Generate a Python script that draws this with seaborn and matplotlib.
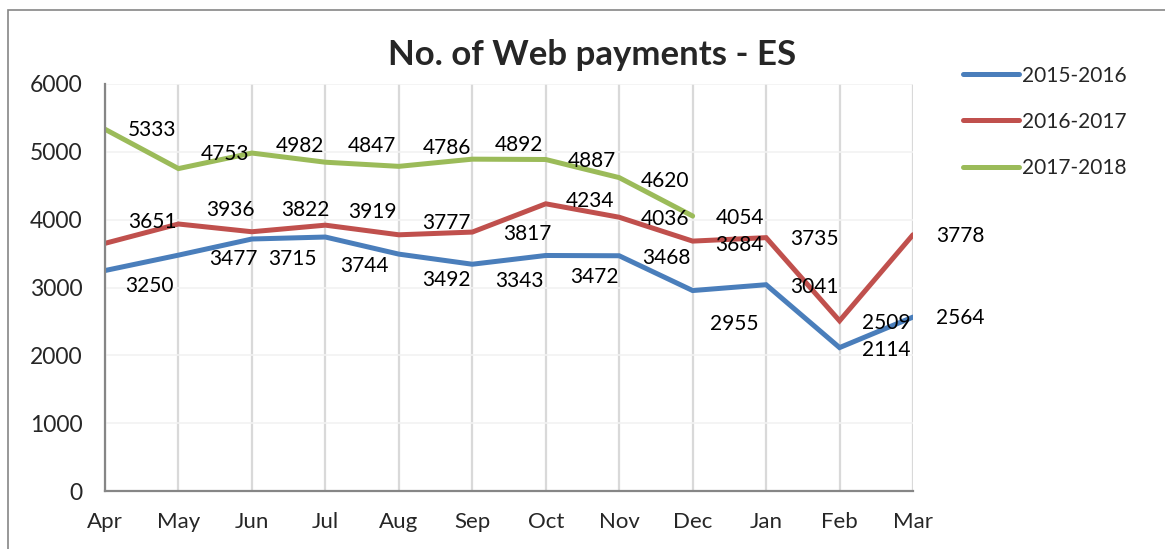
import pandas as pd
import matplotlib.pyplot as plt
import seaborn as sns
from matplotlib.patches import Rectangle

# data
months = ['Apr', 'May', 'Jun', 'Jul', 'Aug', 'Sep', 'Oct', 'Nov', 'Dec', 'Jan', 'Feb', 'Mar']
fy_2015 = [3250, 3477, 3715, 3744, 3492, 3343, 3472, 3468, 2955, 3041, 2114, 2564]
fy_2016 = [3651, 3936, 3822, 3919, 3777, 3817, 4234, 4036, 3684, 3735, 2509, 3778]
fy_2017 = [5333, 4753, 4982, 4847, 4786, 4892, 4887, 4620, 4054]
series_names = ['2015-2016', '2016-2017', '2017-2018']
colors = ['#4A7EBB', '#C0504D', '#9BBB59']

# label offsets in pixels (right of each point, like Excel's data labels)
off_2015 = [(44, -15), (55, -4), (40, -20), (39, -29), (48, -26), (47, -17),
            (49, -22), (47, -2), (42, -33), (48, -2), (47, -2), (47, -1)]
off_2016 = [(47, 21), (52, 14), (53, 22), (47, 13), (48, 12), (55, -2),
            (44, 3), (46, -2), (47, -4), (48, -1), (47, -2), (47, -1)]
off_2017 = [(47, -1), (47, 15), (48, 7), (47, 16), (48, 18), (47, 14),
            (46, -2), (46, -3), (47, -2)]

rows = []
for name, vals in zip(series_names, [fy_2015, fy_2016, fy_2017]):
    for i, v in enumerate(vals):
        rows.append({'Month': months[i], 'pos': i, 'Payments': v, 'Year': name})
df = pd.DataFrame(rows)

sns.set_style('white')
plt.rcParams['font.family'] = ['Lato', 'DejaVu Sans']

fig = plt.figure(figsize=(11.65, 5.49), dpi=100)
ax = fig.add_axes([105 / 1165, 1 - 491 / 549, (913 - 105) / 1165, (491 - 84) / 549])

sns.lineplot(data=df, x='pos', y='Payments', hue='Year', palette=colors,
             linewidth=3.6, ax=ax, legend=True, sort=False)
for line in ax.get_lines():
    line.set_solid_capstyle('round')
    line.set_solid_joinstyle('miter')

# data labels
for vals, offs in zip([fy_2015, fy_2016, fy_2017], [off_2015, off_2016, off_2017]):
    for i, (v, o) in enumerate(zip(vals, offs)):
        ax.annotate(str(v), (i, v), xytext=o, textcoords='offset pixels',
                    ha='center', va='center', fontsize=15, color='black')

ax.set_xlim(0, 11)
ax.set_ylim(0, 6000)
ax.set_xticks(range(len(months)))
ax.set_xticklabels(months)
ax.set_yticks(range(0, 7000, 1000))
ax.set_xlabel('')
ax.set_ylabel('')

ax.grid(axis='x', color='#D9D9D9', linewidth=1.6)
ax.grid(axis='y', color='#F2F2F2', linewidth=1.2)
ax.set_axisbelow(True)
for s in ['top', 'right']:
    ax.spines[s].set_visible(False)
for s in ['left', 'bottom']:
    ax.spines[s].set_color('#868686')
    ax.spines[s].set_linewidth(1.6)
ax.tick_params(axis='y', length=6, width=1.2, color='#868686', pad=10, labelsize=16.5)
ax.tick_params(axis='x', length=0, pad=15, labelsize=16)

handles, labels = ax.get_legend_handles_labels()
ax.legend_.remove()
leg = fig.legend(handles, labels, loc='upper left', bbox_to_anchor=(944 / 1165, 1 - 47 / 549),
                 frameon=False, fontsize=15, handlelength=2.7, handletextpad=0.15,
                 labelspacing=1.25)
for h in leg.get_lines():
    h.set_linewidth(3.6)
    h.set_solid_capstyle('round')

fig.text(592 / 1165, 1 - 55 / 549, 'No. of Web payments - ES', ha='center', va='center',
         fontsize=25, fontweight='bold')

# outer chart border
fig.patches.append(Rectangle((8 / 1165, -0.1), 1.2, 1 - 10 / 549 + 0.1,
                             transform=fig.transFigure, fill=False,
                             edgecolor='#868686', linewidth=1.2))

plt.savefig('out.png', dpi=100)
